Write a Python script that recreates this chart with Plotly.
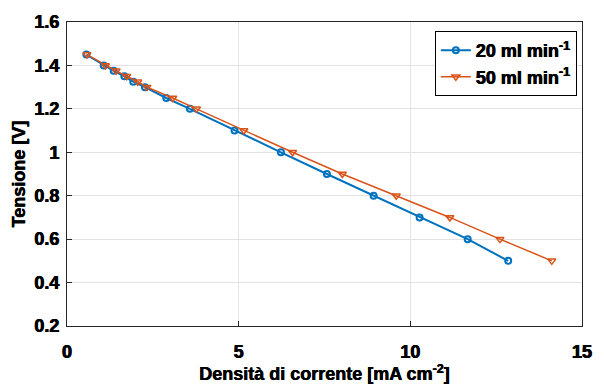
import plotly.graph_objects as go

# Data
j_20 = [0.565, 1.07, 1.36, 1.67, 1.93, 2.27, 2.89, 3.58, 4.88, 6.23, 7.57, 8.93, 10.27, 11.67, 12.85]
v_20 = [1.45, 1.40, 1.375, 1.35, 1.325, 1.30, 1.25, 1.20, 1.10, 1.00, 0.90, 0.80, 0.70, 0.60, 0.50]
j_50 = [0.58, 1.12, 1.43, 1.74, 2.06, 2.33, 3.08, 3.77, 5.15, 6.57, 8.02, 9.59, 11.15, 12.61, 14.12]
v_50 = [1.45, 1.40, 1.375, 1.35, 1.325, 1.30, 1.25, 1.20, 1.10, 1.00, 0.90, 0.80, 0.70, 0.60, 0.50]
x_ticks = [0, 5, 10, 15]
x_ticklabels = ["0", "5", "10", "15"]
y_ticks = [0.2, 0.4, 0.6, 0.8, 1.0, 1.2, 1.4, 1.6]
y_ticklabels = ["0.2", "0.4", "0.6", "0.8", "1", "1.2", "1.4", "1.6"]

BLUE = "#0072BD"
ORANGE = "#D95319"
FONT = "Liberation Sans"
FS = 18
SHADOW = "0.4px 0 0 black, -0.4px 0 0 black"
SHADOW_T = "0.3px 0 0 black, -0.3px 0 0 black"

fig = go.Figure()
fig.add_trace(go.Scatter(
    x=j_20, y=v_20, mode="lines+markers", name="<b>20 ml min<sup>-1</sup></b>",
    line=dict(color=BLUE, width=2),
    marker=dict(symbol="circle-open", size=6, color=BLUE, line=dict(width=2)),
))
fig.add_trace(go.Scatter(
    x=j_50, y=v_50, mode="lines+markers", name="<b>50 ml min<sup>-1</sup></b>",
    line=dict(color=ORANGE, width=1.5),
    marker=dict(symbol="triangle-down-open", size=7, color=ORANGE, line=dict(width=1.5)),
))

tick_font = dict(family=FONT, size=FS, color="black", weight=700, shadow=SHADOW)
text_font = dict(family=FONT, size=FS, color="black", weight=700, shadow=SHADOW_T)

fig.update_layout(
    width=604, height=389,
    margin=dict(l=67, r=14, t=21, b=56),
    paper_bgcolor="white", plot_bgcolor="white",
    font=dict(family=FONT, size=FS, color="black", weight=700),
    showlegend=True,
    legend=dict(
        x=0.99, y=0.97, xanchor="right", yanchor="top",
        bordercolor="black", borderwidth=1, bgcolor="white",
        font=text_font,
        tracegroupgap=0, itemwidth=30,
    ),
    xaxis=dict(
        range=[0, 15], tickvals=x_ticks, ticktext=["<b>%s</b>" % t for t in x_ticklabels],
        ticks="inside", ticklen=5, tickcolor="#262626",
        showline=True, linecolor="#262626", linewidth=1, mirror=True,
        showgrid=True, gridcolor="#e3e3e3", gridwidth=1, zeroline=False,
        tickfont=tick_font,
        ticklabelstandoff=9,
        title=dict(text="<b>Densità di corrente [mA cm<sup>-2</sup>]</b>",
                   font=text_font, standoff=3),
    ),
    yaxis=dict(
        range=[0.2, 1.6], tickvals=y_ticks, ticktext=["<b>%s</b>" % t for t in y_ticklabels],
        ticks="inside", ticklen=5, tickcolor="#262626",
        showline=True, linecolor="#262626", linewidth=1, mirror=True,
        showgrid=True, gridcolor="#e3e3e3", gridwidth=1, zeroline=False,
        tickfont=tick_font,
        ticklabelstandoff=3,
        title=dict(text="<b>Tensione [V]</b>", font=text_font, standoff=4),
    ),
)

fig.write_html("out.html")
